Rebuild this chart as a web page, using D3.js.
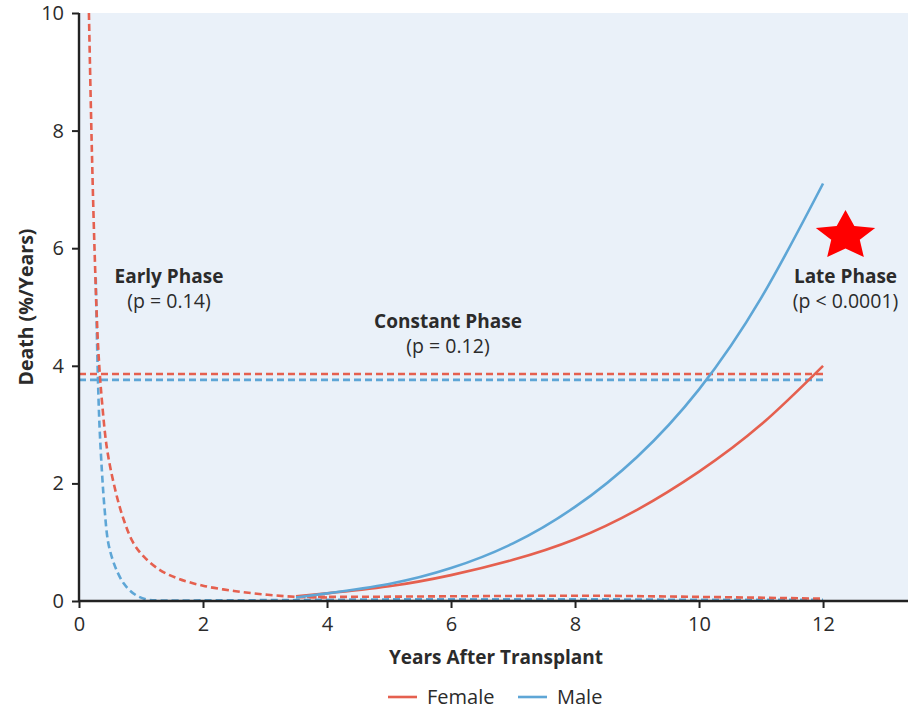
<!DOCTYPE html>
<html>
<head>
<meta charset="utf-8">
<script src="https://cdn.jsdelivr.net/npm/d3@7"></script>
<style>
  body { margin: 0; background: #fff; }
  svg { display: block; }
  text { font-family: "Open Sans", "DejaVu Sans", sans-serif; fill: #2b2b2b; }
</style>
</head>
<body>
<svg id="chart" width="908" height="709"></svg>
<script>
// Hazard of death (%/year) after transplant, by sex, in three phases
const xTicks = [0, 2, 4, 6, 8, 10, 12];
const yTicks = [0, 2, 4, 6, 8, 10];

// Early phase (decreasing hazard)
const earlyFemale = [[0.16,10],[0.2,8],[0.25,6],[0.31,4.3],[0.37,3.4],[0.45,2.6],[0.56,2.0],[0.7,1.45],[0.87,1.0],[1.05,0.75],[1.3,0.53],[1.6,0.38],[2.0,0.26],[2.5,0.17],[3.0,0.11],[3.5,0.07],[4,0.06]];
const earlyMale = [[0.27,5.5],[0.3,4],[0.33,3.0],[0.37,2.2],[0.41,1.6],[0.47,1.0],[0.55,0.68],[0.63,0.47],[0.72,0.3],[0.82,0.18],[0.95,0.08],[1.1,0.025],[1.3,0.01],[2,0.01],[4,0.02]];

// Constant phase (flat hazard)
const constantFemale = [[0,3.86],[12,3.86]];
const constantMale = [[0,3.76],[12,3.76]];

// Late phase (increasing hazard), with the near-zero components
const lateFemaleLow = [[3.5,0.07],[4,0.07],[6,0.08],[8,0.09],[10,0.07],[12,0.04]];
const lateMaleLow = [[4,0.02],[6,0.03],[8,0.03],[10,0.02],[12,0.02]];
const lateFemale = [[3.5,0.08],[4,0.13],[5,0.25],[6,0.44],[7,0.7],[8,1.05],[9,1.55],[10,2.2],[11,3.0],[12,4.0]];
const lateMale = [[3.5,0.06],[4,0.13],[5,0.29],[6,0.56],[7,0.98],[8,1.6],[9,2.45],[10,3.6],[11,5.15],[12,7.1]];

const phaseLabels = [
  {title: "Early Phase", p: "(p = 0.14)", cx: 169, by: 283},
  {title: "Constant Phase", p: "(p = 0.12)", cx: 448, by: 328},
  {title: "Late Phase", p: "(p < 0.0001)", cx: 845.5, by: 283}
];
const legendItems = [{name: "Female", key: "f"}, {name: "Male", key: "m"}];

const RED = "#e5604f";
const BLUE = "#5ea6d6";
const colour = {f: RED, m: BLUE};

const svg = d3.select("#chart");
const M = {left: 79, right: 908, top: 13, bottom: 601};

const x = d3.scaleLinear().domain([0, 13.37]).range([M.left, M.right]);
const y = d3.scaleLinear().domain([0, 10]).range([M.bottom, M.top]);

// plot panel
svg.append("rect")
  .attr("x", M.left).attr("y", M.top)
  .attr("width", M.right - M.left).attr("height", M.bottom - M.top)
  .attr("fill", "#eaf1f9");

svg.append("clipPath").attr("id", "plotclip")
  .append("rect").attr("x", M.left).attr("y", M.top - 1)
  .attr("width", M.right - M.left).attr("height", M.bottom - M.top + 1);

const line = d3.line().x(d => x(d[0])).y(d => y(d[1])).curve(d3.curveMonotoneX);
const smooth = d3.line().x(d => x(d[0])).y(d => y(d[1])).curve(d3.curveNatural);
const steep = d3.line().x(d => x(d[0])).y(d => y(d[1])).curve(d3.curveCatmullRom.alpha(0.5));

const g = svg.append("g").attr("clip-path", "url(#plotclip)");

function draw(data, col, dashed, gen) {
  g.append("path")
    .datum(data)
    .attr("d", gen || line)
    .attr("fill", "none")
    .attr("stroke", col)
    .attr("stroke-width", 2.6)
    .attr("stroke-dasharray", dashed ? "7,4" : null);
}

// near-zero dashed components
draw(lateMaleLow, BLUE, true);
draw(lateFemaleLow, RED, true);
// constant phase
draw(constantMale, BLUE, true);
draw(constantFemale, RED, true);
// early phase (steep descent)
draw(earlyMale, BLUE, true, steep);
draw(earlyFemale, RED, true, steep);
// late phase
draw(lateFemale, RED, false, smooth);
draw(lateMale, BLUE, false, smooth);

// axes
const xAxis = d3.axisBottom(x).tickValues(xTicks).tickSize(7).tickPadding(9).tickFormat(d3.format("d"));
const yAxis = d3.axisLeft(y).tickValues(yTicks).tickSize(7).tickPadding(8).tickFormat(d3.format("d"));

const gx = svg.append("g").attr("transform", `translate(0,${M.bottom})`).call(xAxis);
const gy = svg.append("g").attr("transform", `translate(${M.left},0)`).call(yAxis);
[gx, gy].forEach(a => {
  a.select(".domain").attr("stroke", "#222").attr("stroke-width", 2.4);
  a.selectAll(".tick line").attr("stroke", "#222").attr("stroke-width", 2);
  a.selectAll(".tick text").attr("font-size", 20).attr("fill", "#2b2b2b")
    .style("font-family", "'Open Sans', sans-serif");
});
gx.select(".domain").attr("d", `M${M.left},0H${M.right}`);
gy.select(".domain").attr("d", `M0,${M.top}V${M.bottom}`);

// axis titles
svg.append("text")
  .attr("x", 496).attr("y", 664)
  .attr("text-anchor", "middle").attr("font-size", 19).attr("font-weight", 700)
  .text("Years After Transplant");
svg.append("text")
  .attr("transform", `translate(33,307) rotate(-90)`)
  .attr("text-anchor", "middle").attr("font-size", 19.5).attr("font-weight", 700)
  .text("Death (%/Years)");

// phase annotations
phaseLabels.forEach(p => {
  svg.append("text").attr("x", p.cx).attr("y", p.by)
    .attr("text-anchor", "middle").attr("font-size", 19).attr("font-weight", 700)
    .text(p.title);
  svg.append("text").attr("x", p.cx).attr("y", p.by + 25)
    .attr("text-anchor", "middle").attr("font-size", 19.5)
    .text(p.p);
});

// star marking the significant phase
const star = [];
for (let i = 0; i < 10; i++) {
  const r = i % 2 === 0 ? 26 : 12.5;
  const a = -Math.PI / 2 + i * Math.PI / 5;
  star.push([Math.cos(a) * r, Math.sin(a) * r]);
}
svg.append("path")
  .attr("d", "M" + star.map(p => p.join(",")).join("L") + "Z")
  .attr("transform", `translate(845.5,236) scale(1.2,1)`)
  .attr("fill", "#ff0000");

// legend
const leg = svg.append("g").attr("transform", "translate(388,697)");
let off = 0;
legendItems.forEach(item => {
  const it = leg.append("g").attr("transform", `translate(${off},0)`);
  it.append("line").attr("x1", 0).attr("x2", 29).attr("y1", 0).attr("y2", 0)
    .attr("stroke", colour[item.key]).attr("stroke-width", 2.6);
  it.append("text").attr("x", 39).attr("y", 7).attr("font-size", 20).text(item.name);
  off += 130;
});
</script>
</body>
</html>
